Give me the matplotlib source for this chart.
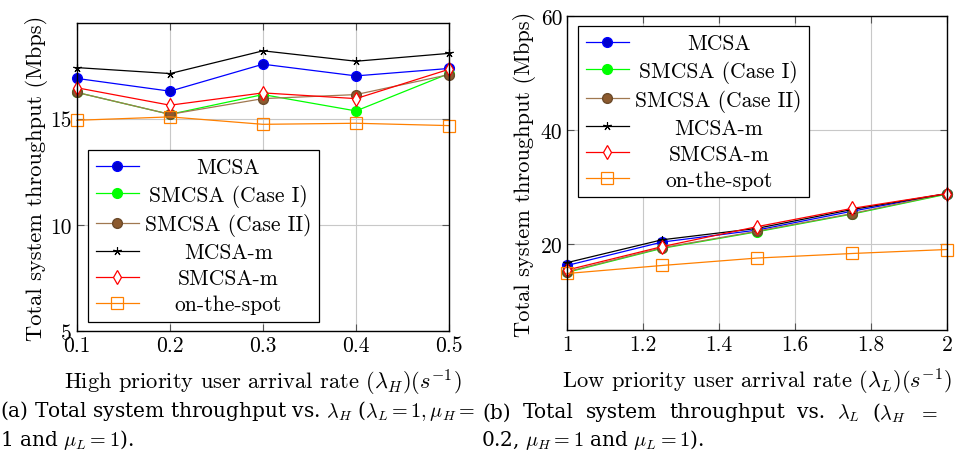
import numpy as np
import matplotlib
matplotlib.use("Agg")
import matplotlib.pyplot as plt

plt.rcParams['font.family'] = ['cmr10', 'DejaVu Serif']
plt.rcParams['mathtext.fontset'] = 'cm'
plt.rcParams['axes.formatter.use_mathtext'] = True
plt.rcParams['axes.unicode_minus'] = False

#Datos de la figura (a): variando lambda_H
lam_h = [0.1, 0.2, 0.3, 0.4, 0.5]
mcsa_a = [16.89, 16.29, 17.56, 17.01, 17.36]
smcsa1_a = [16.23, 15.20, 16.13, 15.36, 17.12]
smcsa2_a = [16.23, 15.20, 15.94, 16.13, 17.07]
mcsam_a = [17.40, 17.12, 18.19, 17.70, 18.07]
smcsam_a = [16.45, 15.63, 16.21, 15.94, 17.32]
spot_a = [14.92, 15.08, 14.73, 14.78, 14.67]

#Datos de la figura (b): variando lambda_L
lam_l = [1.0, 1.25, 1.5, 1.75, 2.0]
mcsa_b = [16.3, 20.4, 22.5, 25.8, 28.9]
smcsa1_b = [15.1, 19.3, 22.2, 25.3, 28.8]
smcsa2_b = [15.2, 19.4, 22.3, 25.4, 28.9]
mcsam_b = [16.8, 20.8, 22.8, 26.1, 28.9]
smcsam_b = [15.5, 19.6, 23.1, 26.3, 28.9]
spot_b = [14.9, 16.3, 17.6, 18.4, 19.1]

labels = ['MCSA', 'SMCSA (Case I)', 'SMCSA (Case II)', 'MCSA-m', 'SMCSA-m', 'on-the-spot']

styles = [
    dict(color='#0000ff', marker='o', ms=7, mfc='#0000cc', mec='#0000ff'),
    dict(color='#00ff00', marker='o', ms=7, mfc='#00ff00', mec='#00ff00'),
    dict(color='#a07850', marker='o', ms=7, mfc='#8c5a2e', mec='#6b4a2a'),
    dict(color='black', marker=(5, 2, 0), ms=6, mew=0.8),
    dict(color='#ff0000', marker='d', ms=7, mfc='white', mec='#ff0000', mew=0.9),
    dict(color='#ff8000', marker='s', ms=8, mfc='none', mec='#ff8000', mew=0.9),
]

FS = 15.5
LABEL_FS = 16.2
CAP_FS = 14.5
W, H = 961, 456


def style_axes(ax):
    ax.grid(True, color='#c8c8c8', linewidth=0.8)
    ax.set_axisbelow(True)
    ax.tick_params(direction='in', top=True, right=True, length=5, width=0.8,
                   labelsize=FS, color='#555555')
    for s in ax.spines.values():
        s.set_linewidth(1.0)
        s.set_color('black')


def center_legend_texts(fig, leg):
    fig.canvas.draw()
    texts = leg.get_texts()
    widths = [t.get_window_extent().width for t in texts]
    maxw = max(widths)
    for t, w in zip(texts, widths):
        t.set_x((maxw - w) / 2.0)


def justified_line(fig, words, x0, x1, y, **kw):
    #Reparte las palabras entre x0 y x1 (texto justificado)
    texts = [fig.text(x0 / W, 1 - y / H, w, va='center', ha='left', **kw) for w in words]
    fig.canvas.draw()
    widths = [t.get_window_extent().width for t in texts]
    gap = (x1 - x0 - sum(widths)) / (len(words) - 1)
    x = x0
    for t, w in zip(texts, widths):
        t.set_x(x / W)
        x += w + gap


def main():
    fig = plt.figure(figsize=(W / 100, H / 100), dpi=100)
    ax1 = fig.add_axes([77 / W, 1 - 332 / H, 372 / W, 308 / H])
    ax2 = fig.add_axes([567 / W, 1 - 331 / H, 380 / W, 314 / H])

    series_a = [mcsa_a, smcsa1_a, smcsa2_a, mcsam_a, smcsam_a, spot_a]
    series_b = [mcsa_b, smcsa1_b, smcsa2_b, mcsam_b, smcsam_b, spot_b]

    for ys, lab, st in zip(series_a, labels, styles):
        ax1.plot(lam_h, ys, lw=0.9, label=lab, clip_on=False, **st)
    for ys, lab, st in zip(series_b, labels, styles):
        ax2.plot(lam_l, ys, lw=0.9, label=lab, clip_on=False, **st)

    #Eje (a)
    ax1.set_xlim(0.1, 0.5)
    ax1.set_ylim(5, 19.5)
    ax1.set_xticks(lam_h)
    ax1.set_xticklabels(['0.1', '0.2', '0.3', '0.4', '0.5'])
    ax1.set_yticks([5, 10, 15])
    ax1.set_yticklabels(['5', '10', '15'])
    ax1.set_xlabel(r'High priority user arrival rate $(\lambda_H)(s^{-1})$', fontsize=LABEL_FS, labelpad=8)
    ax1.set_ylabel('Total system throughput (Mbps)', fontsize=LABEL_FS, labelpad=2)
    style_axes(ax1)

    #Eje (b)
    ax2.set_xlim(1, 2)
    ax2.set_ylim(5, 60)
    ax2.set_xticks([1, 1.2, 1.4, 1.6, 1.8, 2])
    ax2.set_xticklabels(['1', '1.2', '1.4', '1.6', '1.8', '2'])
    ax2.set_yticks([20, 40, 60])
    ax2.set_yticklabels(['20', '40', '60'])
    ax2.set_xlabel(r'Low priority user arrival rate $(\lambda_L)(s^{-1})$', fontsize=LABEL_FS, labelpad=8)
    ax2.set_ylabel('Total system throughput (Mbps)', fontsize=LABEL_FS, labelpad=3)
    style_axes(ax2)

    leg_kw = dict(fontsize=FS, frameon=True, fancybox=False, edgecolor='black',
                  framealpha=1.0, borderaxespad=0, handlelength=2.0,
                  handletextpad=0.3, labelspacing=0.3, borderpad=0.35)
    leg1 = ax1.legend(loc='lower left', bbox_to_anchor=(0.03, 0.03), **leg_kw)
    leg2 = ax2.legend(loc='upper left', bbox_to_anchor=(0.03, 0.968), **leg_kw)
    for leg in (leg1, leg2):
        leg.get_frame().set_linewidth(0.9)

    #Leyendas de las subfiguras
    cap_kw = dict(fontsize=CAP_FS, family=['DejaVu Serif'])
    fig.text(0, 1 - 411 / H,
             r'(a) Total system throughput vs. $\lambda_H$ ($\lambda_L = 1, \mu_H =$',
             va='center', ha='left', **cap_kw)
    fig.text(0, 1 - 440 / H, r'1 and $\mu_L = 1$).', va='center', ha='left', **cap_kw)

    words_b = ['(b)', 'Total', 'system', 'throughput', 'vs.', r'$\lambda_L$', r'($\lambda_H$', '$=$']
    justified_line(fig, words_b, 482, 938, 413, **cap_kw)
    fig.text(481 / W, 1 - 440 / H, r'0.2, $\mu_H = 1$ and $\mu_L = 1$).',
             va='center', ha='left', **cap_kw)

    center_legend_texts(fig, leg1)
    center_legend_texts(fig, leg2)

    fig.savefig('out.png', dpi=100)


if __name__ == "__main__":
    main()
